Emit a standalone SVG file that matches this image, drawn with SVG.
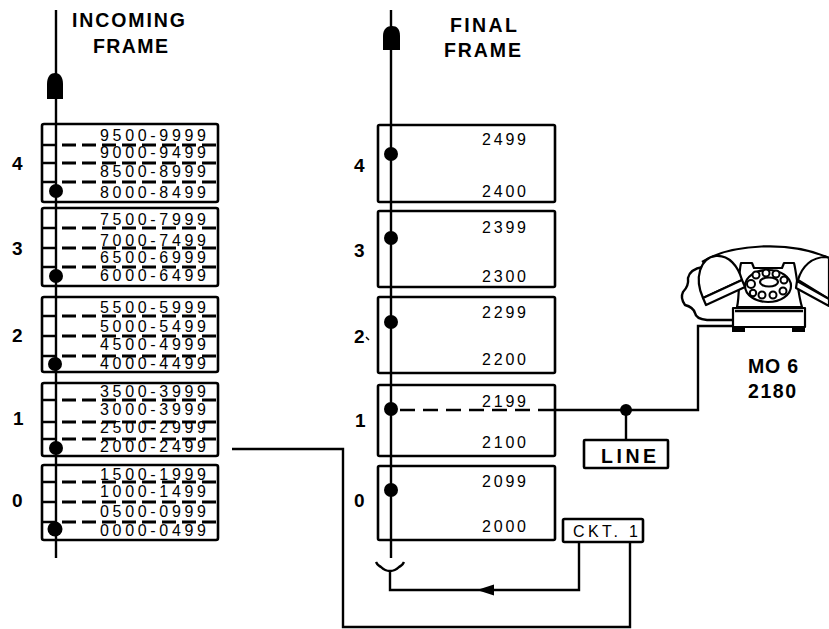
<svg xmlns="http://www.w3.org/2000/svg" width="829" height="629" viewBox="0 0 829 629">
<style>
.box{fill:none;stroke:#000;stroke-width:2.6}
.ln{fill:none;stroke:#000;stroke-width:2.4}
.dash{fill:none;stroke:#000;stroke-width:2.8;stroke-dasharray:14 6}
.num{font-family:"Liberation Sans",Arial,sans-serif;font-size:16px;fill:#000}
.ttl{font-family:"Liberation Sans",Arial,sans-serif;font-size:19.5px;font-weight:bold;fill:#000}
.row{font-family:"Liberation Sans",Arial,sans-serif;font-size:19px;font-weight:bold;fill:#000}
.ph{fill:#fff;stroke:#000;stroke-width:2.2;stroke-linejoin:round}
</style>
<rect width="829" height="629" fill="#fff"/>

<g id="incoming-frame">
<text class="ttl" x="72" y="27" textLength="113" lengthAdjust="spacing">INCOMING</text>
<text class="ttl" x="93" y="53" textLength="75" lengthAdjust="spacing">FRAME</text>
<line class="ln" x1="56" y1="10" x2="56" y2="558"/>
<path d="M47,99 V84 C47,76 51,73 55,73 C59,73 63,76 63,84 V99 Z" fill="#000"/>
<g id="in-4">
<rect class="box" x="42" y="124" width="176" height="78" rx="2"/>
<text class="row" x="12" y="170">4</text>
<path class="ln" d="M42,145 H56 M42,163 H56 M42,182 H56"/>
<path class="dash" d="M62,145 H218 M62,163 H218 M62,182 H218"/>
<text class="num" x="100" y="141" textLength="106" lengthAdjust="spacing">9500-9999</text>
<text class="num" x="100" y="158" textLength="106" lengthAdjust="spacing">9000-9499</text>
<text class="num" x="100" y="177" textLength="106" lengthAdjust="spacing">8500-8999</text>
<text class="num" x="100" y="198" textLength="106" lengthAdjust="spacing">8000-8499</text>
<circle cx="56" cy="191" r="7"/>
</g>
<g id="in-3">
<rect class="box" x="42" y="208" width="176" height="78" rx="2"/>
<text class="row" x="12" y="255">3</text>
<path class="ln" d="M42,228 H56 M42,248 H56 M42,267 H56"/>
<path class="dash" d="M62,228 H218 M62,248 H218 M62,267 H218"/>
<text class="num" x="100" y="225" textLength="106" lengthAdjust="spacing">7500-7999</text>
<text class="num" x="100" y="246" textLength="106" lengthAdjust="spacing">7000-7499</text>
<text class="num" x="100" y="263" textLength="106" lengthAdjust="spacing">6500-6999</text>
<text class="num" x="100" y="281" textLength="106" lengthAdjust="spacing">6000-6499</text>
<circle cx="56" cy="276" r="7"/>
</g>
<g id="in-2">
<rect class="box" x="42" y="297" width="176" height="75" rx="2"/>
<text class="row" x="12" y="342">2</text>
<path class="ln" d="M42,316 H56 M42,336 H56 M42,356 H56"/>
<path class="dash" d="M62,316 H218 M62,336 H218 M62,356 H218"/>
<text class="num" x="100" y="313" textLength="106" lengthAdjust="spacing">5500-5999</text>
<text class="num" x="100" y="332" textLength="106" lengthAdjust="spacing">5000-5499</text>
<text class="num" x="100" y="350" textLength="106" lengthAdjust="spacing">4500-4999</text>
<text class="num" x="100" y="369" textLength="106" lengthAdjust="spacing">4000-4499</text>
<circle cx="55" cy="364" r="7"/>
</g>
<g id="in-1">
<rect class="box" x="42" y="383" width="176" height="73" rx="2"/>
<text class="row" x="13" y="425">1</text>
<path class="ln" d="M42,400 H56 M42,422 H56 M42,439 H56"/>
<path class="dash" d="M62,400 H218 M62,422 H218 M62,439 H218"/>
<text class="num" x="100" y="397" textLength="106" lengthAdjust="spacing">3500-3999</text>
<text class="num" x="100" y="415" textLength="106" lengthAdjust="spacing">3000-3999</text>
<text class="num" x="100" y="433" textLength="106" lengthAdjust="spacing">2500-2999</text>
<text class="num" x="100" y="452" textLength="106" lengthAdjust="spacing">2000-2499</text>
<circle cx="56" cy="448" r="7"/>
</g>
<g id="in-0">
<rect class="box" x="42" y="465" width="176" height="75" rx="2"/>
<text class="row" x="12" y="507">0</text>
<path class="ln" d="M42,482 H56 M42,502 H56 M42,522 H56"/>
<path class="dash" d="M62,482 H218 M62,502 H218 M62,522 H218"/>
<text class="num" x="100" y="480" textLength="106" lengthAdjust="spacing">1500-1999</text>
<text class="num" x="100" y="497" textLength="106" lengthAdjust="spacing">1000-1499</text>
<text class="num" x="100" y="517" textLength="106" lengthAdjust="spacing">0500-0999</text>
<text class="num" x="100" y="536" textLength="106" lengthAdjust="spacing">0000-0499</text>
<circle cx="55" cy="529" r="7.5"/>
</g>
</g>

<g id="final-frame">
<text class="ttl" x="450" y="32" textLength="67" lengthAdjust="spacing">FINAL</text>
<text class="ttl" x="444" y="57" textLength="77" lengthAdjust="spacing">FRAME</text>
<line class="ln" x1="391" y1="10" x2="391" y2="558"/>
<path d="M383,50 V36 C383,29 387,26 392,26 C397,26 400,29 400,36 V50 Z" fill="#000"/>
<g id="fin-4">
<rect class="box" x="378" y="125" width="177" height="77" rx="1.5"/>
<text class="row" x="354" y="172">4</text>
<text class="num" x="482" y="145" textLength="44" lengthAdjust="spacing">2499</text>
<text class="num" x="482" y="197" textLength="44" lengthAdjust="spacing">2400</text>
<circle cx="391" cy="154" r="7"/>
</g>
<g id="fin-3">
<rect class="box" x="378" y="211" width="177" height="76" rx="1.5"/>
<text class="row" x="354" y="257">3</text>
<text class="num" x="482" y="233" textLength="44" lengthAdjust="spacing">2399</text>
<text class="num" x="482" y="282" textLength="44" lengthAdjust="spacing">2300</text>
<circle cx="391" cy="238" r="7"/>
</g>
<g id="fin-2">
<rect class="box" x="378" y="297" width="177" height="76" rx="1.5"/>
<text class="row" x="354" y="343">2</text>
<path d="M366,337 L369,340" stroke="#000" stroke-width="1.5"/>
<text class="num" x="482" y="318" textLength="44" lengthAdjust="spacing">2299</text>
<text class="num" x="482" y="365" textLength="44" lengthAdjust="spacing">2200</text>
<circle cx="391" cy="322" r="7"/>
</g>
<g id="fin-1">
<rect class="box" x="378" y="385" width="177" height="71" rx="1.5"/>
<text class="row" x="355" y="427">1</text>
<text class="num" x="482" y="407" textLength="44" lengthAdjust="spacing">2199</text>
<text class="num" x="482" y="448" textLength="44" lengthAdjust="spacing">2100</text>
<circle cx="391" cy="409" r="7"/>
</g>
<g id="fin-0">
<rect class="box" x="378" y="466" width="177" height="74" rx="1.5"/>
<text class="row" x="354" y="507">0</text>
<text class="num" x="482" y="487" textLength="44" lengthAdjust="spacing">2099</text>
<text class="num" x="482" y="532" textLength="44" lengthAdjust="spacing">2000</text>
<circle cx="391" cy="490" r="7"/>
</g>
<path id="jack" class="ln" d="M376,562 Q378,566 381,567 Q385,571 390,571 Q395,571 399,567 Q402,566 404,562"/>
</g>

<g id="ckt-1">
<rect class="box" x="563" y="519" width="80" height="23" rx="1.5"/>
<text class="num" x="573" y="537" textLength="65" lengthAdjust="spacing">CKT. 1</text>
</g>

<g id="line-box">
<rect class="box" x="584" y="440" width="84" height="28" rx="1"/>
<text class="ttl" x="601" y="463" font-size="17" textLength="55" lengthAdjust="spacing">LINE</text>
</g>

<g id="telephone">
<path class="ln" stroke-width="2" d="M733,320 H707 Q696,319 695,313 Q693,307 685,305 Q680,298 683,292 Q689,286 688,278 Q690,269 703,267"/>
<path class="ph" fill="none" d="M702,262 C730,244 790,240 829,258"/>
<path class="ph" d="M733,327 V308 H805 V327 Z"/>
<path class="ln" stroke-width="1.6" d="M735,311 H803"/>
<rect x="732" y="326" width="13" height="6" fill="#000"/>
<rect x="792" y="326" width="13" height="6" fill="#000"/>
<path class="ph" d="M737,307 C740,295 738,275 741,263 H752 L754,268 H782 L784,263 H794 C797,275 798,295 802,307 Z"/>
<ellipse class="ph" cx="768" cy="286" rx="23" ry="16"/>
<ellipse class="ph" cx="769" cy="282" rx="9" ry="4.5"/>
<g fill="#fff" stroke="#000" stroke-width="2">
<circle cx="751" cy="284" r="4"/>
<circle cx="756" cy="275" r="3.5"/>
<circle cx="766" cy="273" r="3.5"/>
<circle cx="776" cy="274" r="3.5"/>
<circle cx="784" cy="280" r="3.5"/>
<circle cx="783" cy="291" r="3.5"/>
<circle cx="773" cy="295" r="3.5"/>
<circle cx="762" cy="295" r="3.5"/>
<circle cx="753" cy="293" r="3.2"/>
</g>
<path class="ph" d="M703,298 C694,278 700,258 716,256 C729,255 738,266 742,280 Z"/>
<path class="ph" d="M703,298 L742,280 L745,287 L706,305 Z"/>
<path class="ph" d="M798,280 C802,266 812,257 826,257 L829,258 L829,299 Z"/>
<path class="ph" d="M797,281 L829,299 L829,306 L796,288 Z"/>
</g>

<g id="labels">
<text class="ttl" x="748" y="373" textLength="50" lengthAdjust="spacing">MO 6</text>
<text class="ttl" x="748" y="398" textLength="48" lengthAdjust="spacing">2180</text>
</g>

<g id="connectors">
<path class="ln" d="M232,449 H343 V627 H630 V542"/>
<path class="ln" d="M390,571 V590 H579 V542"/>
<polygon points="477,590 494,584.5 494,595.5" fill="#000"/>
<path class="ln" d="M400,410 H545" stroke-dasharray="15 8" stroke-width="2.6"/>
<path class="ln" d="M545,410 H698 V326 H733"/>
<circle cx="626" cy="410" r="6"/>
<line class="ln" x1="626" y1="410" x2="626" y2="440"/>
</g>
</svg>
